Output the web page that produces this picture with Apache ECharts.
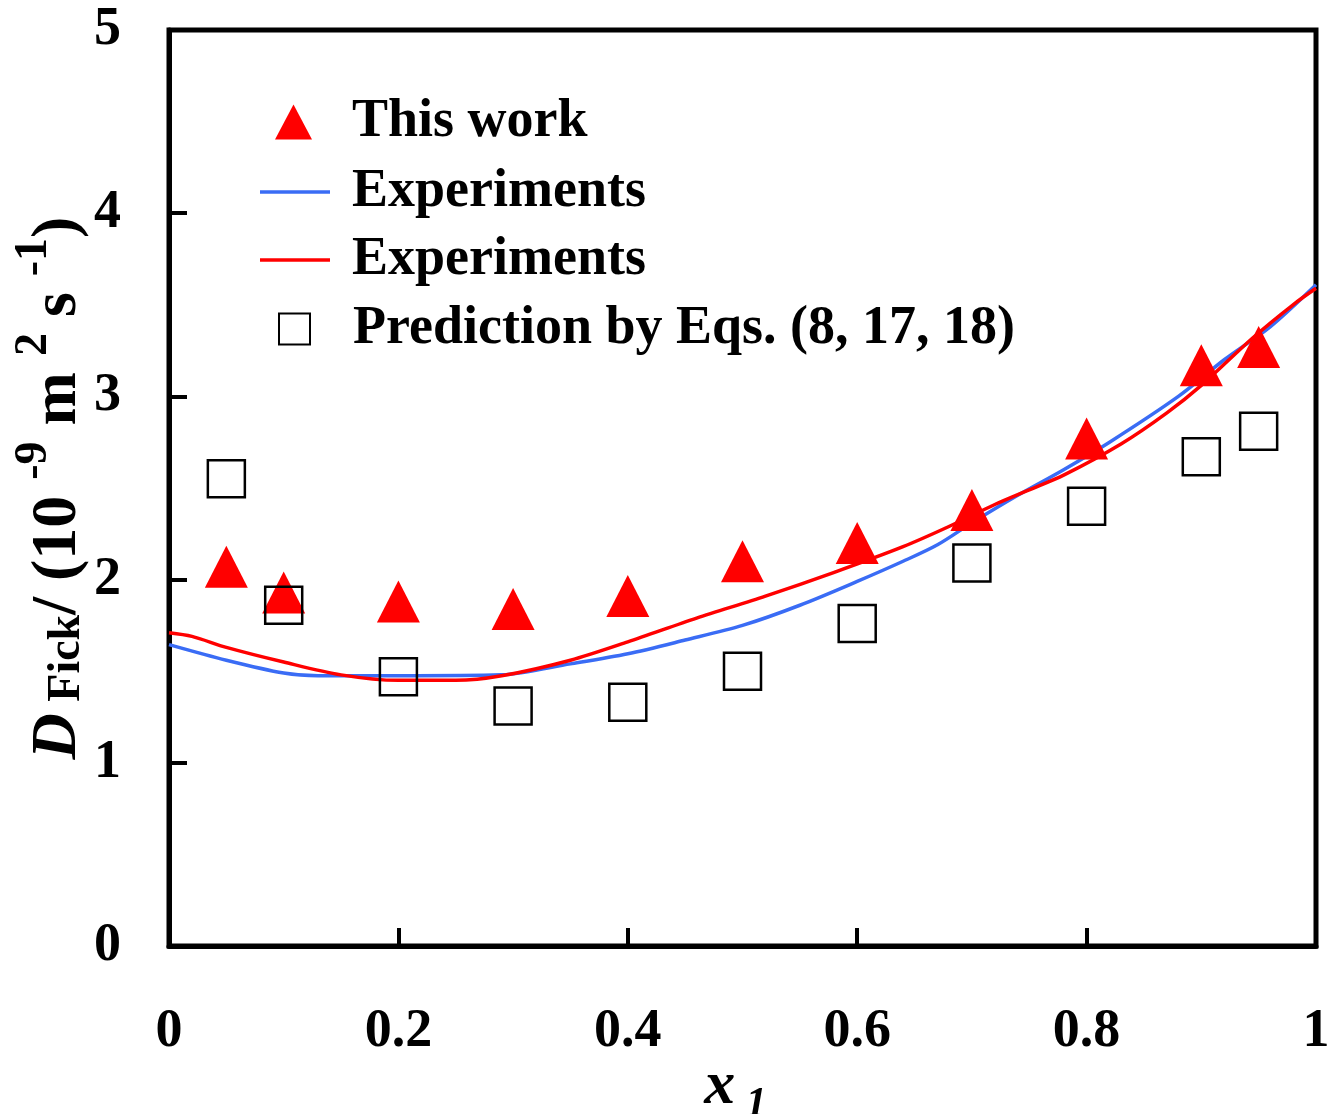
<!DOCTYPE html>
<html>
<head>
<meta charset="utf-8">
<script src="https://cdn.jsdelivr.net/npm/echarts@6/dist/echarts.min.js"></script>
<style>
html,body{margin:0;padding:0;background:#fff;}
#chart{width:1331px;height:1114px;}
</style>
</head>
<body>
<div id="chart"></div>
<script>
// ---- data ----
const pointX = [0.05, 0.1, 0.2, 0.3, 0.4, 0.5, 0.6, 0.7, 0.8, 0.9, 0.95];
const thisWorkY = [2.07, 1.93, 1.88, 1.84, 1.91, 2.10, 2.20, 2.38, 2.77, 3.17, 3.27];
const predictionY = [2.55, 1.86, 1.47, 1.31, 1.33, 1.50, 1.76, 2.09, 2.40, 2.67, 2.81];

const blueX = [0, 0.05, 0.10, 0.13, 0.20, 0.29, 0.35, 0.40, 0.45, 0.50, 0.55, 0.60, 0.64, 0.67, 0.70, 0.74, 0.78, 0.82, 0.88, 0.92, 0.96, 1.0];
const blueY = [1.645, 1.56, 1.49, 1.475, 1.475, 1.48, 1.54, 1.595, 1.67, 1.75, 1.86, 1.99, 2.10, 2.19, 2.31, 2.46, 2.60, 2.75, 3.0, 3.20, 3.38, 3.61];

const redX = [0, 0.02, 0.05, 0.10, 0.15, 0.20, 0.25, 0.29, 0.35, 0.40, 0.46, 0.52, 0.58, 0.64, 0.68, 0.72, 0.75, 0.78, 0.83, 0.87, 0.90, 0.945, 0.98, 1.0];
const redY = [1.71, 1.69, 1.63, 1.55, 1.48, 1.45, 1.45, 1.475, 1.56, 1.66, 1.79, 1.91, 2.04, 2.18, 2.29, 2.41, 2.49, 2.57, 2.74, 2.91, 3.06, 3.32, 3.50, 3.59];

const xTicks = {min: 0, max: 1, interval: 0.2};
const yTicks = {min: 0, max: 5, interval: 1};

const names = ['This work', 'Experiments (blue)', 'Experiments (red)', 'Prediction by Eqs. (8, 17, 18)'];

// ---- build ----
const zip = (xs, ys) => xs.map((x, i) => [x, ys[i]]);
const FONT = '"Liberation Serif", "Times New Roman", serif';
const labelText = {fontFamily: FONT, fontWeight: 'bold', fontSize: 54, color: '#000'};

function legendItem(name, left, top, icon, w, h, padLeft) {
  return {
    data: [name],
    left: left, top: top,
    orient: 'vertical',
    padding: 0,
    icon: icon,
    itemWidth: w, itemHeight: h,
    selectedMode: false,
    formatter: n => n.replace(/ \((blue|red)\)/, ''),
    textStyle: Object.assign({}, labelText, {padding: [0, 0, 0, padLeft], lineHeight: 60})
  };
}

const big = {fontFamily: FONT, fontWeight: 'bold', fontSize: 64, color: '#000', lineHeight: 90, verticalAlign: 'bottom'};
const chart = echarts.init(document.getElementById('chart'), null, {renderer: 'canvas'});
chart.setOption({
  animation: false,
  backgroundColor: '#fff',
  grid: {left: 169, right: 15, top: 30, bottom: 168, containLabel: false, outerBoundsMode: 'none',
         show: true, borderColor: '#000', borderWidth: 5, backgroundColor: 'transparent'},
  legend: [
    legendItem(names[0], 275, 92, 'triangle', 37, 35, 35),
    legendItem(names[1], 260, 162, 'rect', 70, 3.5, 17),
    legendItem(names[2], 260, 230, 'rect', 70, 3.5, 17),
    legendItem(names[3], 278, 299, 'rect', 31, 31, 38)
  ],
  xAxis: {
    type: 'value', min: xTicks.min, max: xTicks.max, interval: xTicks.interval,
    splitLine: {show: false},
    axisLine: {show: true, lineStyle: {color: '#000', width: 5}},
    axisTick: {show: true, inside: true, length: 18, lineStyle: {color: '#000', width: 4}},
    axisLabel: Object.assign({}, labelText, {margin: 59}),
    name: '{x|x}{s| 1}',
    nameLocation: 'middle',
    nameGap: 110,
    nameMoveOverlap: false,
    nameTextStyle: {
      padding: [0, 14, 0, 0],
      rich: {
        x: {fontFamily: FONT, fontWeight: 'bold', fontStyle: 'italic', fontSize: 62, color: '#000', lineHeight: 70, verticalAlign: 'top'},
        s: {fontFamily: FONT, fontWeight: 'bold', fontStyle: 'italic', fontSize: 42, color: '#000', lineHeight: 70, verticalAlign: 'bottom'}
      }
    }
  },
  yAxis: {
    type: 'value', min: yTicks.min, max: yTicks.max, interval: yTicks.interval,
    splitLine: {show: false},
    axisLine: {show: true, lineStyle: {color: '#000', width: 5}},
    axisTick: {show: true, inside: true, length: 18, lineStyle: {color: '#000', width: 4}},
    axisLabel: Object.assign({}, labelText, {margin: 48}),
    name: '{d|D}{sub| Fick}{n|/ (10 }{sup|-9}{n| m }{sup|2}{n| s }{sup|-1}{n|)}',
    nameLocation: 'middle',
    nameRotate: 90,
    nameGap: 79,
    nameMoveOverlap: false,
    nameTextStyle: {
      rich: {
        d: Object.assign({}, big, {fontStyle: 'italic'}),
        n: big,
        sub: {fontFamily: FONT, fontWeight: 'bold', fontSize: 46, color: '#000', lineHeight: 72, verticalAlign: 'bottom'},
        sup: {fontFamily: FONT, fontWeight: 'bold', fontSize: 46, color: '#000', lineHeight: 58, verticalAlign: 'top', padding: [11, 0, 0, 0]}
      }
    }
  },
  series: [
    {
      name: names[1], type: 'line', data: zip(blueX, blueY),
      showSymbol: false, symbol: 'none', smooth: 0.3,
      color: '#3a6cf5',
      lineStyle: {color: '#3a6cf5', width: 3.5}, z: 2
    },
    {
      name: names[2], type: 'line', data: zip(redX, redY),
      showSymbol: false, symbol: 'none', smooth: 0.3,
      color: '#ff0000',
      lineStyle: {color: '#ff0000', width: 3.5}, z: 3
    },
    {
      name: names[0], type: 'scatter', data: zip(pointX, thisWorkY),
      symbol: 'triangle', symbolSize: [43, 42],
      itemStyle: {color: '#ff0000', opacity: 1}, z: 4
    },
    {
      name: names[3], type: 'scatter', data: zip(pointX, predictionY),
      symbol: 'rect', symbolSize: 37,
      itemStyle: {color: 'rgba(255,255,255,0)', borderColor: '#000', borderWidth: 2.5, opacity: 1}, z: 5
    }
  ]
});
</script>
</body>
</html>
